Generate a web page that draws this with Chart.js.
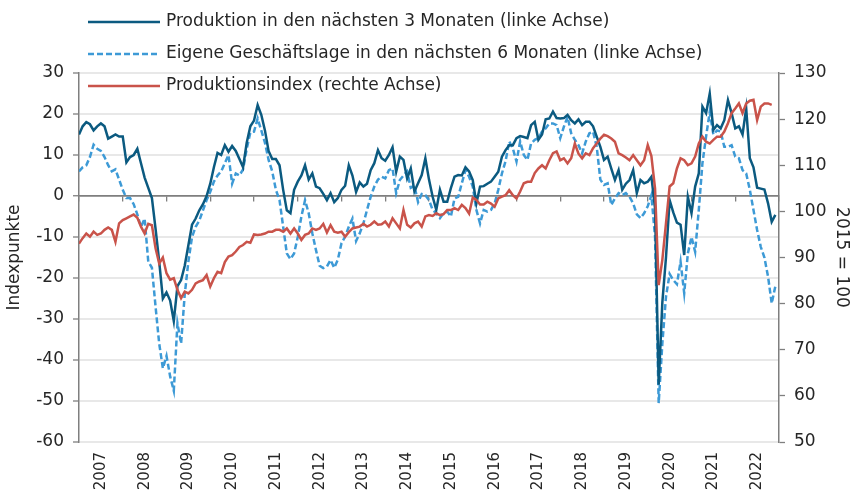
<!DOCTYPE html>
<html lang="de">
<head>
<meta charset="utf-8">
<title>Produktionserwartungen</title>
<script src="https://cdn.jsdelivr.net/npm/chart.js@4.4.1/dist/chart.umd.min.js"></script>
<style>
  html, body { margin: 0; padding: 0; background: #fff; }
  #wrap { width: 856px; height: 495px; position: relative; }
</style>
</head>
<body>
<div id="wrap"><canvas id="chart"></canvas></div>
<script>
// Monatswerte ab Januar 2007
const jahre = ["2007", "2008", "2009", "2010", "2011", "2012", "2013", "2014",
               "2015", "2016", "2017", "2018", "2019", "2020", "2021", "2022"];

// Produktion in den nächsten 3 Monaten (linke Achse)
const produktion = [
  15, 17, 18, 17.5, 16, 17, 17.7, 17, 14, 14.5, 15, 14.5,
  14.5, 8.2, 9.5, 10, 11.5, 8, 4.5, 2, -0.5, -8, -16, -25,
  -23.5, -25.5, -30.5, -22, -20.5, -17, -12, -7, -5.5, -3.5, -2, 0,
  3, 7, 10.5, 10, 12.4, 10.8, 12.2, 11, 9, 7, 13, 17,
  18.4, 22.2, 19.8, 16, 11, 9, 9, 7.5, 1.5, -3.5, -4.2, 1.5,
  3.5, 5, 7.5, 4, 5.5, 2.3, 1.9, 0.5, -1, 0.7, -1.5, -0.5,
  1.5, 2.5, 7.5, 5, 1, 3.3, 2.3, 3, 6.3, 8, 11.2, 9.2,
  8.6, 10, 11.9, 5.9, 9.6, 8.8, 4.3, 6.7, 1.1, 3.1, 5.1, 9.2,
  4, -0.2, -3.4, 1.5, -1.4, -1.4, 1.9, 4.7, 5.1, 5, 7, 6,
  3.9, -1.8, 2.3, 2.4, 3, 3.5, 4.7, 5.9, 9.6, 11.2, 12.4, 12.4,
  14.1, 14.6, 14.4, 14.1, 17.3, 18.1, 13.7, 15, 18.7, 18.9, 20.6, 19,
  18.9, 19, 19.8, 18.5, 17.7, 18.7, 17.3, 18.1, 18.1, 17, 14.5, 12,
  8.8, 9.6, 6.7, 3.9, 6.3, 1.5, 3, 3.9, 6.3, 0.7, 3.9, 3.1,
  3.5, 4.7, -3, -46, -26, -15, -1, -4, -6.5, -7, -14.4, -0.2,
  -4.2, 2.3, 5.5, 21.8, 20.2, 25, 16.1, 17.3, 16.5, 18.5, 23.4, 20.2,
  16.5, 17, 15, 21.4, 9.2, 7, 2, 1.8, 1.6, -1.8, -6.3, -4.6
];

// Eigene Geschäftslage in den nächsten 6 Monaten (linke Achse)
const geschaeftslage = [
  6, 7, 7.5, 9.5, 12.5, 11.5, 11, 9.5, 7.5, 6, 6.5, 4,
  1.5, -0.5, -0.5, -2, -4.5, -7.5, -5.5, -16, -17.5, -27, -36, -42,
  -39, -44, -47.5, -31, -36, -24, -16, -10, -7.5, -6, -3.5, -1,
  1, 3.5, 5, 6, 8, 10, 3, 5.5, 5, 6.5, 11.5, 15.5,
  15.7, 18.9, 16, 13, 8.8, 6, 1.5, -1, -7.5, -14, -15.4, -14,
  -10, -5, -1, -4.2, -9.1, -13.2, -17, -17.6, -17.2, -15.6, -17.5, -15.5,
  -11.5, -9.9, -7.5, -5.5, -11, -9.1, -6.7, -3.4, -0.2, 2.3, 4, 4.7,
  4.3, 6.3, 6.7, 0.7, 3.9, 5, 6, 2, 2.5, -1.5, 0.5, 0.2,
  -1, -3.4, -4.2, -5.4, -4.2, -3.8, -5, -0.6, -0.2, 3.1, 6.3, 4.7,
  2.3, -3.4, -6.7, -3.4, -3.8, -3.4, -1.8, 1.5, 5.5, 8.5, 13.3, 11.6,
  8.4, 13.3, 10, 8.8, 12.8, 13.7, 14.1, 15.7, 16.5, 17.7, 17.7, 17.3,
  14.1, 16.9, 19.3, 15.3, 13.7, 12.4, 10.4, 13.3, 15.3, 15.7, 12, 4,
  2.7, 3.1, -2.2, -0.6, 0.7, 0.2, 0.7, -0.2, -1.8, -4.5, -5.4, -4.2,
  -2.5, 0.2, -10, -50.5, -36, -24.6, -19, -20.5, -21.5, -16, -23.7, -14,
  -10, -13.6, -3.4, 8, 14.5, 20.5, 15, 16, 15.7, 12, 12, 12.4,
  9.6, 9.2, 6.3, 5.5, 1.5, -3.4, -8.3, -12.4, -15, -19.7, -26.2, -22
];

// Produktionsindex, 2015 = 100 (rechte Achse)
const produktionsindex = [
  93, 94.2, 95.2, 94.5, 95.6, 94.9, 95.2, 96, 96.5, 96, 93.4, 97.4,
  98.1, 98.5, 98.9, 99.3, 98.6, 96.7, 95.2, 97.3, 97, 92, 88.7, 90,
  86.6, 85.2, 85.5, 83, 81.2, 82.6, 82.2, 83, 84.4, 84.8, 85.1, 86.2,
  83.7, 85.5, 86.9, 86.6, 89, 90.2, 90.5, 91.3, 92.3, 92.7, 93.4, 93.2,
  95, 94.9, 95, 95.2, 95.6, 95.6, 96, 96, 95.6, 96.3, 95.2, 96.3,
  95.2, 93.8, 94.9, 95.2, 96.3, 96, 96.3, 97.3, 95.4, 97, 95.6, 95.4,
  95.6, 94.5, 95.5, 96.3, 96.5, 96.7, 97.3, 96.7, 97.1, 97.8, 97.1, 97.2,
  97.8, 96.7, 98.5, 97.4, 96.3, 100.3, 97.1, 96.5, 97.4, 97.8, 96.7, 98.9,
  99.2, 99, 99.6, 99.2, 99.4, 100.3, 100.3, 100.7, 100.3, 101.4, 100.7, 99.5,
  103, 102.5, 101.5, 101.5, 102.1, 101.7, 101, 102.8, 103.2, 103.5, 104.6, 103.5,
  102.8, 104.3, 106.1, 106.4, 106.4, 108.3, 109.3, 110, 109.3, 111.1, 112.6, 113,
  111.1, 111.5, 110.4, 111.5, 114.7, 112.5, 111.5, 112.6, 112.2, 113.7, 114.7, 115.8,
  116.6, 116.3, 115.8, 115.1, 112.6, 112.2, 111.7, 111.1, 112.2, 111.1, 110, 111.1,
  114.4, 112, 105, 84, 89.5, 97.4, 105.4, 106.1, 109.3, 111.5, 111.1, 110,
  110.4, 111.9, 114.7, 116.2, 115.1, 114.7, 115.5, 116.2, 116.2, 117.3, 119.1, 121.3,
  122.3, 123.4, 121.3, 123.4, 124, 124.2, 119.8, 122.7, 123.4, 123.4, 123.1
];

const schrift = "DejaVu Sans";
const textFarbe = "#262626";
const achsenFarbe = "#7f7f7f";

const punkte = (werte) => werte.map((v, i) => ({ x: i, y: v }));

// Legende oben links, teilweise über der Zeichenfläche
const legendeLinks = {
  id: "legendeLinks",
  afterDraw(chart) {
    const ctx = chart.ctx;
    const left = chart.chartArea.left;
    chart.data.datasets.forEach((ds, k) => {
      const y = 22 + k * 32;
      ctx.save();
      ctx.strokeStyle = ds.borderColor;
      ctx.lineWidth = ds.borderWidth;
      ctx.setLineDash(ds.borderDash || []);
      ctx.beginPath();
      ctx.moveTo(left + 9, y);
      ctx.lineTo(left + 81, y);
      ctx.stroke();
      ctx.setLineDash([]);
      ctx.fillStyle = textFarbe;
      ctx.font = "17px " + schrift;
      ctx.textBaseline = "middle";
      ctx.fillText(ds.label, left + 87, y);
      ctx.restore();
    });
  }
};

document.addEventListener("DOMContentLoaded", () => {
  const ctx = document.getElementById("chart").getContext("2d");
  new Chart(ctx, {
    type: "line",
    data: {
      datasets: [
        {
          label: "Produktion in den nächsten 3 Monaten (linke Achse)",
          data: punkte(produktion),
          borderColor: "#0b5a80",
          borderWidth: 2.5,
          yAxisID: "y",
          order: 2
        },
        {
          label: "Eigene Geschäftslage in den nächsten 6 Monaten (linke Achse)",
          data: punkte(geschaeftslage),
          borderColor: "#3d9ad6",
          borderWidth: 2.5,
          borderDash: [6, 3],
          yAxisID: "y",
          order: 3
        },
        {
          label: "Produktionsindex (rechte Achse)",
          data: punkte(produktionsindex),
          borderColor: "#c9534a",
          borderWidth: 2.5,
          yAxisID: "y1",
          order: 1
        }
      ]
    },
    options: {
      responsive: true,
      maintainAspectRatio: false,
      animation: false,
      layout: { padding: { top: 73, left: 0, right: 0, bottom: 0 } },
      elements: { point: { radius: 0 }, line: { tension: 0 } },
      plugins: { legend: { display: false }, tooltip: { enabled: false } },
      scales: {
        x: {
          type: "linear",
          min: 0,
          max: 192,
          position: "bottom",
          grid: { display: false, drawTicks: false },
          border: { display: false },
          afterBuildTicks: (s) => { s.ticks = jahre.map((j, k) => ({ value: 6 + 12 * k })); },
          afterFit: (s) => { s.height = 53; },
          ticks: {
            autoSkip: false,
            minRotation: 90,
            maxRotation: 90,
            padding: 10,
            color: textFarbe,
            font: { family: schrift, size: 15 },
            callback: (v) => jahre[Math.round((v - 6) / 12)]
          }
        },
        x2: {
          type: "linear",
          axis: "x",
          min: 0,
          max: 192,
          position: { y: 0 },
          grid: { drawOnChartArea: false, drawTicks: true, tickLength: 5, color: achsenFarbe, lineWidth: 1.3 },
          border: { display: true, color: achsenFarbe, width: 1.5 },
          ticks: { display: false, stepSize: 12, autoSkip: false }
        },
        y: {
          position: "left",
          min: -60,
          max: 30,
          afterFit: (s) => { s.width = 79; },
          ticks: { stepSize: 10, padding: 9, color: textFarbe, font: { family: schrift, size: 17 } },
          grid: {
            color: (c) => c.tick && c.tick.value === 0 ? achsenFarbe : "#e8e8e8",
            lineWidth: (c) => c.tick && c.tick.value === 0 ? 1.5 : 2,
            tickColor: achsenFarbe,
            tickWidth: 1.3,
            tickLength: 6
          },
          border: { display: true, color: achsenFarbe, width: 1.5 },
          title: { display: true, text: "Indexpunkte", color: textFarbe, font: { family: schrift, size: 17 } }
        },
        y1: {
          position: "right",
          min: 50,
          max: 130,
          afterFit: (s) => { s.width = 77; },
          ticks: { stepSize: 10, padding: 9, color: textFarbe, font: { family: schrift, size: 17 } },
          grid: { drawOnChartArea: false, tickColor: achsenFarbe, tickWidth: 1.3, tickLength: 6 },
          border: { display: true, color: achsenFarbe, width: 1.5 },
          title: { display: true, text: "2015 = 100", color: textFarbe, font: { family: schrift, size: 17 } }
        }
      }
    },
    plugins: [legendeLinks]
  });
});
</script>
</body>
</html>
